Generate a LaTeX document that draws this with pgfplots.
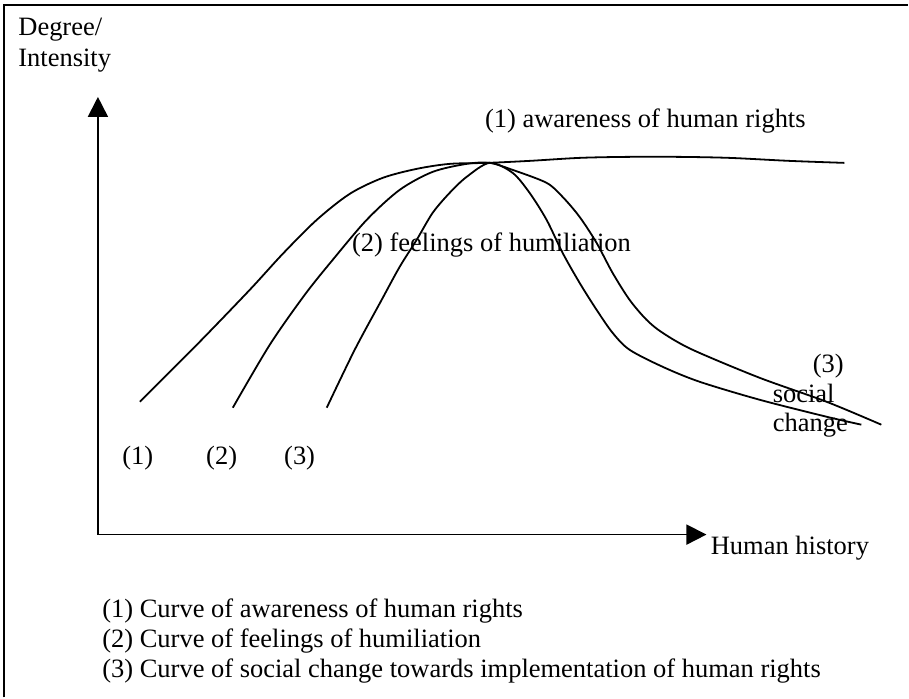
\documentclass[border=0pt]{standalone}
\usepackage{fontspec}
\setmainfont{Liberation Serif}
\usepackage{pgfplots}
\pgfplotsset{compat=1.18}
\usetikzlibrary{arrows.meta}
\begin{document}
\begin{tikzpicture}[every node/.style={font=\fontsize{13.3}{15.5}\selectfont, inner sep=0pt, anchor=base west}]
\begin{axis}[
  at={(0,0)}, anchor=south west,
  scale only axis, width=454.5bp, height=349bp,
  xmin=0, xmax=909, ymin=0, ymax=698, y dir=reverse,
  hide axis, clip=false]
% bounding area
\path (axis cs:0,0) rectangle (axis cs:909,698);
% frame
\draw[line width=0.7bp] (axis cs:4,698) -- (axis cs:4,5) -- (axis cs:909,5);
% axes
\addplot[black, line width=0.9bp, -{Triangle[length=10bp,width=10bp]}] coordinates {(98,535) (98,97)};
\addplot[black, line width=0.9bp, -{Triangle[length=10bp,width=10bp]}] coordinates {(98,535) (707,535)};
% curve 1: awareness of human rights
\addplot[black, line width=0.9bp, smooth] coordinates {
 (140,402) (197,345) (250,290) (283,254) (317,220) (350,194) (383,178)
 (417,169) (450,164) (488,163) (530,161) (580,158) (627,157) (680,157)
 (730,158) (790,161) (845,163)};
% curve 2: feelings of humiliation
\addplot[black, line width=0.9bp, smooth] coordinates {
 (233,408) (270,345) (305,295) (333,260) (367,220) (400,190) (433,172)
 (467,164) (490,163) (513,170) (547,183) (563,197) (580,217) (597,243)
 (613,273) (630,300) (647,320) (663,333) (693,350) (760,378) (827,402) (882,425)};
% curve 3: social change
\addplot[black, line width=0.9bp, smooth] coordinates {
 (327,408) (355,350) (382,300) (400,267) (417,240) (433,213) (450,193)
 (467,177) (490,163) (513,173) (530,193) (547,220) (563,253) (580,283)
 (597,310) (613,333) (630,350) (663,367) (700,382) (760,400) (827,417) (862,425)};
% labels
\node at (axis cs:18,36) {Degree/};
\node at (axis cs:18,67) {Intensity};
\node at (axis cs:485,128) {(1) awareness of human rights};
\node at (axis cs:352,252) {(2) feelings of humiliation};
\node at (axis cs:122,465) {(1)};
\node at (axis cs:206,465) {(2)};
\node at (axis cs:284,465) {(3)};
\node at (axis cs:813,373) {(3)};
\node at (axis cs:773,403) {social};
\node at (axis cs:773,432) {change};
\node at (axis cs:711,555) {Human history};
\node at (axis cs:102,618) {(1) Curve of awareness of human rights};
\node at (axis cs:102,648) {(2) Curve of feelings of humiliation};
\node at (axis cs:102,678) {(3) Curve of social change towards implementation of human rights};
\end{axis}
\end{tikzpicture}
\end{document}
